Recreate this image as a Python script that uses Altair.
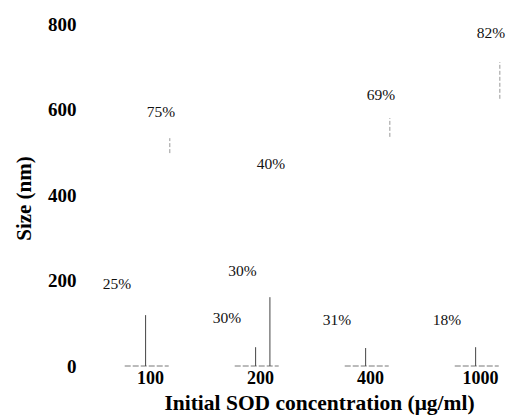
import json
import altair as alt
import pandas as pd

# ---- data ----
concentrations = ["100", "200", "400", "1000"]
pop_conc = ["100", "100", "200", "200", "200", "400", "400", "1000", "1000"]
pop_slot = ["small", "large", "small", "mid", "large", "small", "large", "small", "large"]
pop_pct = [25, 75, 30, 30, 40, 31, 69, 18, 82]
label_size_nm = [192, 594, 112, 222, 472, 108, 634, 108, 779]
line_low_nm = [0, 498, 0, 0, None, 0, 536, 0, 625]
line_high_nm = [119, 533, 44, 161, None, 42, 580, 44, 711]

pops = pd.DataFrame({
    "conc": pop_conc,
    "slot": pop_slot,
    "pct": [f"{p}%" for p in pop_pct],
    "label_nm": label_size_nm,
    "lo": line_low_nm,
    "hi": line_high_nm,
})
pops["group"] = pops["conc"].map(concentrations.index)

groups = pd.DataFrame({"conc": concentrations})
groups["group"] = groups["conc"].map(concentrations.index)

SERIF = "Liberation Serif"

label_expr = json.dumps(concentrations) + "[datum.value]"
x_scale = alt.Scale(domain=[-0.6, 3.236], nice=False, zero=False)
y_scale = alt.Scale(domain=[0, 800], nice=False)
x_axis = alt.Axis(values=[0, 1, 2, 3], labelExpr=label_expr, title="Initial SOD concentration (μg/ml)",
                  labelFontSize=18, labelPadding=3, titleFontSize=21.5, titleX=235, titleY=26)
y_axis = alt.Axis(values=[0, 200, 400, 600, 800], title="Size (nm)", labelFontSize=19,
                  labelPadding=8, titleFontSize=21, titleX=-50, titleY=174)

base_pop = alt.Chart(pops)

labels = base_pop.transform_calculate(
    lx="datum.group + (datum.slot == 'small' ? -0.30 : datum.slot == 'mid' ? -0.16 : 0.10)"
).mark_text(font=SERIF, fontSize=15.5, color="#111").encode(
    x=alt.X("lx:Q", scale=x_scale, axis=x_axis),
    y=alt.Y("label_nm:Q", scale=y_scale, axis=y_axis),
    text="pct:N",
)

small_lines = base_pop.transform_filter("datum.slot != 'large'").transform_calculate(
    rx="datum.group + (datum.slot == 'small' ? -0.04 : 0.09)"
).mark_rule(color="#444", strokeWidth=1).encode(
    x=alt.X("rx:Q", scale=x_scale, axis=x_axis),
    y=alt.Y("lo:Q", scale=y_scale, axis=y_axis),
    y2="hi:Q",
)

large_lines = base_pop.transform_filter("datum.slot == 'large'").transform_calculate(
    rx="datum.group + 0.18"
).mark_rule(color="#999", strokeWidth=1, strokeDash=[4, 2]).encode(
    x=alt.X("rx:Q", scale=x_scale, axis=x_axis),
    y=alt.Y("lo:Q", scale=y_scale, axis=y_axis),
    y2="hi:Q",
)

baselines = alt.Chart(groups).transform_calculate(
    x0="datum.group - 0.23", x1="datum.group + 0.17", zero="0"
).mark_rule(color="#777", strokeWidth=1, strokeDash=[6, 2]).encode(
    x=alt.X("x0:Q", scale=x_scale, axis=x_axis),
    x2="x1:Q",
    y=alt.Y("zero:Q", scale=y_scale, axis=y_axis),
)

chart = alt.layer(baselines, small_lines, large_lines, labels).properties(
    width=422,
    height=342,
    padding={"left": 76, "top": 16, "right": 0, "bottom": 50},
    autosize=alt.AutoSizeParams(type="none"),
).configure_view(stroke=None).configure_axis(
    domain=False, ticks=False, grid=False,
    labelFont=SERIF, labelFontWeight="bold", labelColor="#000",
    titleFont=SERIF, titleFontWeight="bold", titleColor="#000",
)

chart.save("out.html", embed_options={"renderer": "svg", "actions": False})
